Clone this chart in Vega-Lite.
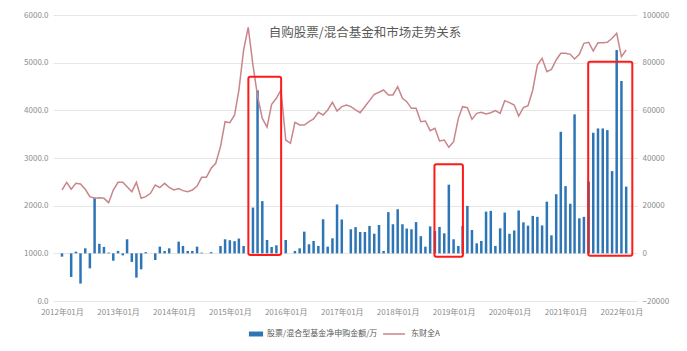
{
  "$schema": "https://vega.github.io/schema/vega-lite/v6.json",
  "width": 584,
  "height": 286,
  "autosize": {"type": "none"},
  "padding": {"left": 53, "top": 15, "right": 50, "bottom": 50},
  "background": "white",
  "config": {
    "font": "Noto Sans CJK SC",
    "view": {"stroke": null},
    "axis": {"labelFont": "Noto Sans CJK SC", "labelColor": "#8c8c8c", "labelFontSize": 8, "domain": false, "ticks": false, "title": null}
  },
  "title": {"text": "自购股票/混合基金和市场走势关系", "font": "Noto Sans CJK SC", "fontSize": 12.5, "fontWeight": "normal", "color": "#595959", "anchor": "middle", "frame": "group", "offset": -28, "dx": 20},
  "data": {"values": [
    {"date":"2012/01/01","fund":-1400,"index":2330},
    {"date":"2012/02/01","fund":0,"index":2490},
    {"date":"2012/03/01","fund":-9900,"index":2345},
    {"date":"2012/04/01","fund":700,"index":2470},
    {"date":"2012/05/01","fund":-12700,"index":2455},
    {"date":"2012/06/01","fund":2100,"index":2343},
    {"date":"2012/07/01","fund":-6300,"index":2189},
    {"date":"2012/08/01","fund":23400,"index":2154},
    {"date":"2012/09/01","fund":4000,"index":2168},
    {"date":"2012/10/01","fund":2700,"index":2154},
    {"date":"2012/11/01","fund":300,"index":2063},
    {"date":"2012/12/01","fund":-3100,"index":2329},
    {"date":"2013/01/01","fund":1000,"index":2490},
    {"date":"2013/02/01","fund":-850,"index":2490},
    {"date":"2013/03/01","fund":5900,"index":2398},
    {"date":"2013/04/01","fund":-3600,"index":2294},
    {"date":"2013/05/01","fund":-10200,"index":2490},
    {"date":"2013/06/01","fund":-6700,"index":2154},
    {"date":"2013/07/01","fund":500,"index":2189},
    {"date":"2013/08/01","fund":0,"index":2260},
    {"date":"2013/09/01","fund":-2800,"index":2434},
    {"date":"2013/10/01","fund":2800,"index":2378},
    {"date":"2013/11/01","fund":1000,"index":2469},
    {"date":"2013/12/01","fund":2100,"index":2385},
    {"date":"2014/01/01","fund":0,"index":2329},
    {"date":"2014/02/01","fund":4900,"index":2357},
    {"date":"2014/03/01","fund":3100,"index":2315},
    {"date":"2014/04/01","fund":1000,"index":2294},
    {"date":"2014/05/01","fund":1000,"index":2329},
    {"date":"2014/06/01","fund":2800,"index":2413},
    {"date":"2014/07/01","fund":300,"index":2595},
    {"date":"2014/08/01","fund":0,"index":2595},
    {"date":"2014/09/01","fund":500,"index":2784},
    {"date":"2014/10/01","fund":0,"index":2889},
    {"date":"2014/11/01","fund":3100,"index":3238},
    {"date":"2014/12/01","fund":5900,"index":3762},
    {"date":"2015/01/01","fund":5500,"index":3741},
    {"date":"2015/02/01","fund":5100,"index":3902},
    {"date":"2015/03/01","fund":6200,"index":4420},
    {"date":"2015/04/01","fund":3100,"index":5266},
    {"date":"2015/05/01","fund":0,"index":5740},
    {"date":"2015/06/01","fund":19200,"index":4950},
    {"date":"2015/07/01","fund":68400,"index":4300},
    {"date":"2015/08/01","fund":21900,"index":3830},
    {"date":"2015/09/01","fund":5600,"index":3650},
    {"date":"2015/10/01","fund":2650,"index":4126},
    {"date":"2015/11/01","fund":3350,"index":4252},
    {"date":"2015/12/01","fund":0,"index":4427},
    {"date":"2016/01/01","fund":5600,"index":3378},
    {"date":"2016/02/01","fund":0,"index":3308},
    {"date":"2016/03/01","fund":1000,"index":3748},
    {"date":"2016/04/01","fund":2100,"index":3692},
    {"date":"2016/05/01","fund":9100,"index":3692},
    {"date":"2016/06/01","fund":3800,"index":3762},
    {"date":"2016/07/01","fund":5200,"index":3818},
    {"date":"2016/08/01","fund":3100,"index":3959},
    {"date":"2016/09/01","fund":14300,"index":3902},
    {"date":"2016/10/01","fund":2800,"index":4007},
    {"date":"2016/11/01","fund":6300,"index":4168},
    {"date":"2016/12/01","fund":20500,"index":3986},
    {"date":"2017/01/01","fund":14200,"index":4077},
    {"date":"2017/02/01","fund":0,"index":4112},
    {"date":"2017/03/01","fund":10100,"index":4077},
    {"date":"2017/04/01","fund":11000,"index":4010},
    {"date":"2017/05/01","fund":8950,"index":3951},
    {"date":"2017/06/01","fund":8950,"index":4080},
    {"date":"2017/07/01","fund":11500,"index":4203},
    {"date":"2017/08/01","fund":8250,"index":4336},
    {"date":"2017/09/01","fund":11900,"index":4380},
    {"date":"2017/10/01","fund":980,"index":4427},
    {"date":"2017/11/01","fund":17300,"index":4322},
    {"date":"2017/12/01","fund":12200,"index":4322},
    {"date":"2018/01/01","fund":18500,"index":4497},
    {"date":"2018/02/01","fund":12200,"index":4252},
    {"date":"2018/03/01","fund":10400,"index":4182},
    {"date":"2018/04/01","fund":10100,"index":4042},
    {"date":"2018/05/01","fund":13100,"index":4042},
    {"date":"2018/06/01","fund":7200,"index":3762},
    {"date":"2018/07/01","fund":2800,"index":3776},
    {"date":"2018/08/01","fund":11300,"index":3573},
    {"date":"2018/09/01","fund":9400,"index":3622},
    {"date":"2018/10/01","fund":11100,"index":3357},
    {"date":"2018/11/01","fund":8400,"index":3378},
    {"date":"2018/12/01","fund":28800,"index":3224},
    {"date":"2019/01/01","fund":5900,"index":3343},
    {"date":"2019/02/01","fund":3100,"index":3832},
    {"date":"2019/03/01","fund":11500,"index":4077},
    {"date":"2019/04/01","fund":19900,"index":4056},
    {"date":"2019/05/01","fund":9800,"index":3811},
    {"date":"2019/06/01","fund":4200,"index":3937},
    {"date":"2019/07/01","fund":5200,"index":3958},
    {"date":"2019/08/01","fund":17500,"index":3923},
    {"date":"2019/09/01","fund":17800,"index":3951},
    {"date":"2019/10/01","fund":3100,"index":3993},
    {"date":"2019/11/01","fund":10500,"index":3937},
    {"date":"2019/12/01","fund":17100,"index":4203},
    {"date":"2020/01/01","fund":8200,"index":4161},
    {"date":"2020/02/01","fund":9600,"index":4112},
    {"date":"2020/03/01","fund":18000,"index":3881},
    {"date":"2020/04/01","fund":13000,"index":4056},
    {"date":"2020/05/01","fund":11600,"index":4098},
    {"date":"2020/06/01","fund":15700,"index":4427},
    {"date":"2020/07/01","fund":15300,"index":4951},
    {"date":"2020/08/01","fund":11700,"index":5091},
    {"date":"2020/09/01","fund":21700,"index":4811},
    {"date":"2020/10/01","fund":7550,"index":4860},
    {"date":"2020/11/01","fund":24800,"index":5056},
    {"date":"2020/12/01","fund":51000,"index":5196},
    {"date":"2021/01/01","fund":28200,"index":5196},
    {"date":"2021/02/01","fund":20800,"index":5175},
    {"date":"2021/03/01","fund":58300,"index":5077},
    {"date":"2021/04/01","fund":14700,"index":5175},
    {"date":"2021/05/01","fund":15300,"index":5406},
    {"date":"2021/06/01","fund":30100,"index":5427},
    {"date":"2021/07/01","fund":50600,"index":5245},
    {"date":"2021/08/01","fund":52400,"index":5420},
    {"date":"2021/09/01","fund":52400,"index":5420},
    {"date":"2021/10/01","fund":51700,"index":5427},
    {"date":"2021/11/01","fund":34500,"index":5511},
    {"date":"2021/12/01","fund":85300,"index":5616},
    {"date":"2022/01/01","fund":72300,"index":5126},
    {"date":"2022/02/01","fund":28000,"index":5266}
  ]},
  "encoding": {
    "x": {
      "field": "date", "type": "temporal",
      "scale": {"domain": [{"year": 2011, "month": 12, "date": 6}, {"year": 2022, "month": 3, "date": 11}]},
      "axis": {
        "values": [
          {"year": 2012, "month": 1, "date": 1}, {"year": 2013, "month": 1, "date": 1}, {"year": 2014, "month": 1, "date": 1},
          {"year": 2015, "month": 1, "date": 1}, {"year": 2016, "month": 1, "date": 1}, {"year": 2017, "month": 1, "date": 1},
          {"year": 2018, "month": 1, "date": 1}, {"year": 2019, "month": 1, "date": 1}, {"year": 2020, "month": 1, "date": 1},
          {"year": 2021, "month": 1, "date": 1}, {"year": 2022, "month": 1, "date": 1}
        ],
        "format": "%Y年%m月", "grid": false, "labelPadding": 7, "title": null, "labelOverlap": false
      }
    }
  },
  "layer": [
    {
      "mark": {"type": "bar", "size": 2.5},
      "encoding": {
        "y": {
          "field": "fund", "type": "quantitative",
          "scale": {"domain": [-20000, 100000], "nice": false},
          "axis": {"orient": "right", "values": [-20000, 0, 20000, 40000, 60000, 80000, 100000], "format": "d", "grid": false, "title": null, "labelPadding": 5}
        },
        "fill": {
          "datum": "股票/混合型基金净申购金额/万", "type": "nominal",
          "scale": {"range": ["#2e75b6"]},
          "legend": {"orient": "none", "legendX": 195, "legendY": 311, "title": null, "padding": 0,
            "symbolType": "M-1,-0.35H1V0.35H-1Z", "symbolSize": 200, "labelFontSize": 8, "labelColor": "#595959", "labelOffset": 3, "labelFont": "Noto Sans CJK SC"}
        }
      }
    },
    {
      "layer": [
        {
          "mark": {"type": "line", "strokeWidth": 1.5},
          "encoding": {
            "y": {
              "field": "index", "type": "quantitative",
              "scale": {"domain": [0, 6000], "nice": false},
              "axis": {"orient": "left", "values": [0, 1000, 2000, 3000, 4000, 5000, 6000], "format": ".1f", "grid": true, "gridColor": "#e6e6e6", "title": null, "labelPadding": 5}
            },
            "stroke": {
              "datum": "东财全A", "type": "nominal",
              "scale": {"range": ["#c8868a"]},
              "legend": {"orient": "none", "legendX": 329, "legendY": 307, "title": null, "padding": 0,
                "symbolType": "stroke", "symbolSize": 480, "symbolStrokeWidth": 1.5, "labelFontSize": 8, "labelColor": "#595959", "labelOffset": 5, "labelFont": "Noto Sans CJK SC"}
            }
          }
        },
        {
          "data": {"values": [
            {"date": "2015/05/02", "date2": "2015/12/02", "index": 4706, "index2": 965},
            {"date": "2018/08/29", "date2": "2019/03/03", "index": 2868, "index2": 929},
            {"date": "2021/05/29", "date2": "2022/03/13", "index": 5021, "index2": 950}
          ]},
          "mark": {"type": "rect", "fill": null, "stroke": "#ff1a1a", "strokeWidth": 2, "cornerRadius": 2},
          "encoding": {
            "x2": {"field": "date2"},
            "y": {"field": "index", "type": "quantitative"},
            "y2": {"field": "index2"}
          }
        }
      ]
    }
  ],
  "resolve": {"scale": {"y": "independent", "fill": "independent", "stroke": "independent"}}
}
